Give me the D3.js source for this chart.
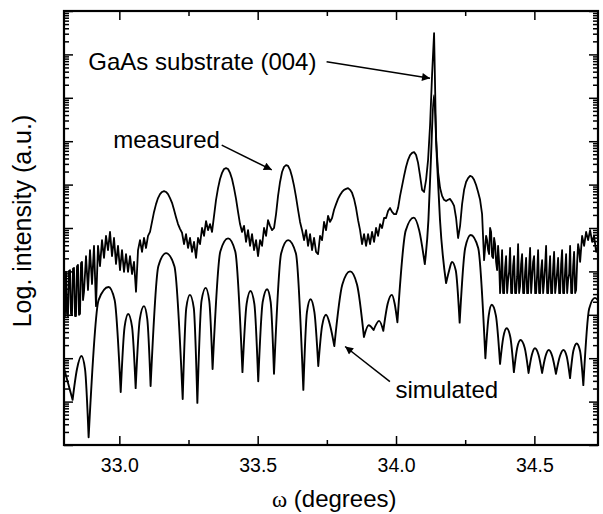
<!DOCTYPE html>
<html><head><meta charset="utf-8">
<script src="https://cdn.jsdelivr.net/npm/d3@7"></script>
<style>
body{margin:0;background:#fff}
svg{display:block;background:#fff}
</style>
</head><body>
<svg id="chart" width="603" height="514"></svg>
<script>
// ---------- DATA ----------
// measured scan: uniform omega grid, log10 intensity (a.u.)
const omegaStart = 32.8;
const omegaStep = 0.00723;
const measuredLogI = [
3.34,3.99,2.97,4.03,3.00,4.08,2.97,4.15,3.02,4.22,
3.53,4.35,3.57,4.49,3.71,4.59,3.20,4.59,4.12,4.72,
4.31,4.82,4.49,4.91,4.35,4.77,4.17,4.59,4.03,4.49,
3.99,4.40,3.99,4.35,3.94,4.22,3.53,4.49,4.72,4.45,
4.77,4.54,4.82,4.91,5.14,5.37,5.55,5.69,5.78,5.83,
5.85,5.83,5.78,5.69,5.58,5.42,5.25,5.09,4.98,4.89,
4.63,4.86,4.54,4.77,4.45,4.68,4.31,4.77,4.63,5.00,
4.82,5.16,4.95,5.09,4.91,5.28,5.65,5.92,6.13,6.27,
6.36,6.38,6.36,6.27,6.13,5.92,5.67,5.37,5.09,4.91,
5.05,4.68,4.95,4.59,4.86,4.49,4.72,4.35,4.72,4.59,
5.00,4.82,5.18,5.05,4.95,5.00,5.32,5.74,6.06,6.29,
6.41,6.45,6.43,6.34,6.18,5.97,5.71,5.42,5.14,4.95,
4.72,4.95,4.59,4.86,4.49,4.77,4.45,4.40,4.82,4.72,
5.14,4.95,5.28,5.14,5.23,5.42,5.55,5.67,5.76,5.83,
5.88,5.90,5.92,5.88,5.81,5.67,5.46,5.18,4.95,4.63,
4.86,4.59,4.86,4.63,4.91,4.68,5.00,4.82,5.09,5.00,
5.23,5.23,5.39,5.46,5.37,5.32,5.32,5.46,5.74,5.97,
6.20,6.41,6.57,6.68,6.73,6.75,6.68,6.50,6.20,5.88,
5.83,6.11,6.57,7.37,8.53,9.49,7.03,6.29,5.92,5.74,
5.65,5.62,5.65,5.67,5.60,5.51,5.23,4.77,5.05,5.55,
5.88,6.06,6.15,6.20,6.18,6.11,5.99,5.83,5.65,5.32,
4.26,4.82,4.49,5.00,4.35,4.77,4.22,4.59,3.50,4.49,
3.50,4.35,3.80,4.54,3.50,4.35,3.50,4.63,3.66,4.40,
3.50,4.31,3.50,4.54,3.85,4.35,3.50,4.49,3.50,4.26,
3.76,4.59,3.50,4.35,3.50,4.45,3.71,4.31,3.50,4.49,
3.50,4.40,3.80,4.59,3.50,4.45,3.57,4.63,4.22,4.82,
4.59,4.91,4.72,4.95,4.68,4.82,4.45,4.59
];
// extra half-step readings in the noisiest stretches: [omega, log10 intensity]
const measuredHalfSteps = [
[32.8036,2.97],[32.8108,3.02],[32.8181,4.01],[32.8253,3.02],[32.8325,4.06],
[32.8398,2.97],[32.8470,4.12],[32.8542,3.00],[32.8615,4.19],[32.8687,3.34],
[34.3219,4.54],[34.3292,4.72],[34.3364,4.40],[34.3436,4.91],[34.3509,4.31],
[34.3581,4.63],[34.3653,4.03],[34.3726,4.22],[34.3798,3.92],[34.3870,3.50],
[34.3943,4.08],[34.4015,3.50],[34.4087,3.99],[34.4160,3.50],[34.4232,4.12],
[34.4304,3.50],[34.4377,3.89],[34.4449,3.50],[34.4521,4.17],[34.4594,3.50],
[34.4666,3.99],[34.4738,3.50],[34.4811,4.08],[34.4883,3.50],[34.4955,4.22],
[34.5028,3.50],[34.5100,3.94],[34.5172,3.50],[34.5245,4.03],[34.5317,3.50],
[34.5389,4.12],[34.5462,3.50],[34.5534,3.96],[34.5606,3.50],[34.5679,4.08],
[34.5751,3.50],[34.5823,3.99],[34.5896,3.50],[34.5968,4.17],[34.6040,3.50],
[34.6113,4.03],[34.6185,3.50],[34.6257,3.94],[34.6330,3.50],[34.6402,4.12],
[34.6474,3.50],[34.6547,4.22],[34.6619,4.49]
];

// simulated curve: [omega (deg), log10 intensity] at minima, flanks and maxima
const simulatedPoints = [
[32.800,1.77],[32.831,1.04],[32.847,1.75],[32.863,2.05],[32.876,1.75],[32.889,0.18],
[32.925,3.34],[32.961,3.64],[32.983,3.34],[33.005,1.22],
[33.019,2.72],[33.032,3.02],[33.046,2.72],[33.059,1.31],
[33.074,2.90],[33.089,3.20],[33.101,2.90],[33.113,1.36],
[33.141,4.12],[33.169,4.42],[33.199,4.12],[33.229,1.06],
[33.242,3.16],[33.255,3.46],[33.269,3.16],[33.282,0.97],
[33.297,3.32],[33.312,3.62],[33.325,3.32],[33.337,1.75],
[33.365,4.46],[33.393,4.76],[33.419,4.46],[33.445,1.68],
[33.460,3.25],[33.474,3.55],[33.488,3.25],[33.502,1.47],
[33.518,3.29],[33.534,3.59],[33.547,3.29],[33.559,1.64],
[33.585,4.42],[33.610,4.72],[33.638,4.42],[33.665,1.27],
[33.678,3.06],[33.691,3.36],[33.705,3.06],[33.719,1.82],
[33.733,2.75],[33.747,3.00],[33.762,2.75],[33.777,2.28],
[33.806,3.70],[33.834,4.00],[33.859,3.70],[33.884,2.49],
[33.901,2.76],[33.919,2.65],[33.939,2.86],[33.954,2.63],
[33.970,3.26],[33.985,3.46],[33.995,3.26],[34.005,2.83],
[34.035,4.94],[34.064,5.24],[34.084,4.94],[34.104,4.17],
[34.117,5.18],[34.126,6.57],[34.137,8.06],[34.148,6.57],[34.159,5.18],[34.181,3.73],
[34.192,4.02],[34.202,4.22],[34.216,4.02],[34.230,2.82],
[34.250,4.54],[34.270,4.84],[34.297,4.54],[34.323,2.00],
[34.335,2.98],[34.346,3.23],[34.361,2.98],[34.376,1.87],
[34.388,2.49],[34.400,2.69],[34.413,2.49],[34.426,1.68],
[34.438,2.24],[34.450,2.42],[34.465,2.24],[34.479,1.66],
[34.491,2.08],[34.502,2.23],[34.515,2.08],[34.528,1.66],
[34.540,2.04],[34.552,2.19],[34.565,2.04],[34.578,1.64],
[34.592,2.04],[34.605,2.19],[34.617,2.04],[34.629,1.54],
[34.641,2.17],[34.653,2.34],[34.665,2.17],[34.677,1.38],
[34.698,3.14],[34.719,3.39],[34.730,3.34]
];

const xDomain = [32.8, 34.73];
const xTicks = [33.0, 33.5, 34.0, 34.5];
const xMinorTicks = [33.25, 33.75, 34.25];
const yDecades = 10;

// annotations: label, text anchor (omega, logI), arrow tail, arrow tip
const annotations = [
  {label:"GaAs substrate (004)", text:[32.888,8.64], tail:[33.749,8.83], tip:[34.123,8.45]},
  {label:"measured",             text:[32.978,6.84], tail:[33.370,6.91], tip:[33.551,6.34]},
  {label:"simulated",            text:[33.998,1.08], tail:[33.978,1.46], tip:[33.816,2.27]}
];

// ---------- CHART ----------
const svg = d3.select("#chart");
const L = 64, R = 598, T = 11, B = 445;
const sans = "'Liberation Sans', Arial, Helvetica, sans-serif";

const x = d3.scaleLinear().domain(xDomain).range([L, R]);
const y = d3.scaleLog().domain([1, Math.pow(10, yDecades)]).range([B, T]);
const Y = v => y(Math.pow(10, v));

svg.append("rect").attr("width",603).attr("height",514).attr("fill","#fff");

const defs = svg.append("defs");
defs.append("clipPath").attr("id","clip").append("rect")
  .attr("x",L).attr("y",T).attr("width",R-L).attr("height",B-T);
defs.append("marker").attr("id","ah").attr("viewBox","0 0 10 10")
  .attr("refX",10).attr("refY",5).attr("markerWidth",13).attr("markerHeight",8)
  .attr("markerUnits","userSpaceOnUse").attr("orient","auto")
  .append("path").attr("d","M0,0L10,5L0,10z").attr("fill","#000");

// curves
const plot = svg.append("g").attr("clip-path","url(#clip)");

const measured = measuredLogI.map((v,i)=>[omegaStart + i*omegaStep, v])
  .concat(measuredHalfSteps)
  .sort((a,b)=>a[0]-b[0]);
const mLine = d3.line().x(d=>x(d[0])).y(d=>Y(d[1]));
plot.append("path").attr("d", mLine(measured))
  .attr("fill","none").attr("stroke","#000").attr("stroke-width",1.8)
  .attr("stroke-linejoin","round");

// simulated: split into lobes at local minima so the minima stay sharp cusps
const cuts = [0];
for (let i=1;i<simulatedPoints.length-1;i++){
  if (simulatedPoints[i][1] < simulatedPoints[i-1][1] && simulatedPoints[i][1] < simulatedPoints[i+1][1]) cuts.push(i);
}
cuts.push(simulatedPoints.length-1);
const sLine = d3.line().x(d=>x(d[0])).y(d=>Y(d[1])).curve(d3.curveMonotoneX);
let dSim = "";
for (let k=0;k<cuts.length-1;k++){
  dSim += sLine(simulatedPoints.slice(cuts[k], cuts[k+1]+1));
}
plot.append("path").attr("d", dSim)
  .attr("fill","none").attr("stroke","#000").attr("stroke-width",1.9)
  .attr("stroke-linejoin","round").attr("stroke-linecap","round");

// axes
const majorY = d3.range(0, yDecades+1).map(k=>Math.pow(10,k));
const minorY = [];
for (let k=0;k<yDecades;k++) for (let m=2;m<=9;m++) minorY.push(m*Math.pow(10,k));

function styleAxis(g){
  g.select(".domain").remove();
  g.selectAll(".tick line").attr("stroke","#000").attr("stroke-width",1.5);
}
svg.append("g").attr("transform",`translate(${L},0)`)
  .call(d3.axisLeft(y).tickValues(majorY).tickSizeInner(-9).tickSizeOuter(0).tickFormat("")).call(styleAxis);
svg.append("g").attr("transform",`translate(${L},0)`)
  .call(d3.axisLeft(y).tickValues(minorY).tickSizeInner(-5).tickSizeOuter(0).tickFormat("")).call(styleAxis);
svg.append("g").attr("transform",`translate(${R},0)`)
  .call(d3.axisRight(y).tickValues(majorY).tickSizeInner(-9).tickSizeOuter(0).tickFormat("")).call(styleAxis);
svg.append("g").attr("transform",`translate(${R},0)`)
  .call(d3.axisRight(y).tickValues(minorY).tickSizeInner(-5).tickSizeOuter(0).tickFormat("")).call(styleAxis);

const xb = svg.append("g").attr("transform",`translate(0,${B})`)
  .call(d3.axisBottom(x).tickValues(xTicks).tickSizeInner(-9).tickSizeOuter(0).tickPadding(13).tickFormat(d3.format(".1f")))
  .call(styleAxis);
xb.selectAll("text").attr("font-family",sans).attr("font-size","19.5px").attr("fill","#000");
svg.append("g").attr("transform",`translate(0,${B})`)
  .call(d3.axisBottom(x).tickValues(xMinorTicks).tickSizeInner(-5).tickSizeOuter(0).tickFormat("")).call(styleAxis);
svg.append("g").attr("transform",`translate(0,${T})`)
  .call(d3.axisTop(x).tickValues(xTicks).tickSizeInner(-9).tickSizeOuter(0).tickFormat("")).call(styleAxis);
svg.append("g").attr("transform",`translate(0,${T})`)
  .call(d3.axisTop(x).tickValues(xMinorTicks).tickSizeInner(-5).tickSizeOuter(0).tickFormat("")).call(styleAxis);

// frame
svg.append("rect").attr("x",L).attr("y",T).attr("width",R-L).attr("height",B-T)
  .attr("fill","none").attr("stroke","#000").attr("stroke-width",2.2);

// axis titles
svg.append("text").attr("transform","translate(31,221) rotate(-90)")
  .attr("text-anchor","middle").attr("font-family",sans).attr("font-size","25px")
  .text("Log. intensity (a.u.)");
const xt = svg.append("text").attr("x",272).attr("y",507).attr("font-family",sans).attr("font-size","24px");
xt.append("tspan").attr("font-family","'Liberation Serif','Times New Roman',serif").attr("font-size","23px").text("ω");
xt.append("tspan").text(" (degrees)");

// annotations
annotations.forEach(a=>{
  svg.append("text").attr("x",x(a.text[0])).attr("y",Y(a.text[1]))
    .attr("font-family",sans).attr("font-size","24px").text(a.label);
  svg.append("line").attr("x1",x(a.tail[0])).attr("y1",Y(a.tail[1]))
    .attr("x2",x(a.tip[0])).attr("y2",Y(a.tip[1]))
    .attr("stroke","#000").attr("stroke-width",1.5).attr("marker-end","url(#ah)");
});
</script>
</body></html>
